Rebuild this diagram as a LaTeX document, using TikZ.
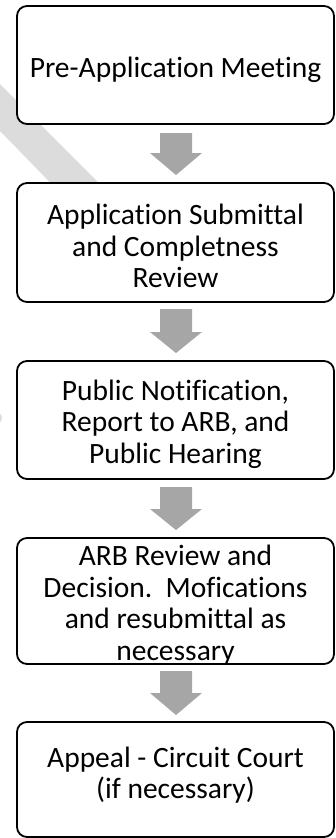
\documentclass[tikz,border=0pt]{standalone}
\usepackage{fontspec}
\setmainfont{Carlito}[Ligatures=NoCommon]
\begin{document}
\begin{tikzpicture}[x=1bp,y=-1bp,
  stepbox/.style={draw=black,line width=1.8bp,rounded corners=10bp,fill=white},
  steptext/.style={align=center,font=\fontsize{29.5bp}{31.5bp}\selectfont,inner sep=0pt},
  flowarrow/.style={fill=arrowgray,draw=none}]
\definecolor{arrowgray}{HTML}{A6A6A6}
\definecolor{markgray}{HTML}{DCDCDC}
\useasboundingbox (0,0) rectangle (335,838);
% watermark band
\fill[markgray] (0,84) -- (160,244) -- (110,244) -- (0,131) -- cycle;
\fill[markgray] (0,418) ellipse (2 and 4);
% boxes
\draw[stepbox] (17,6) rectangle (334,124);
\draw[stepbox] (17,183) rectangle (334,302);
\draw[stepbox] (17,361) rectangle (334,479);
\draw[stepbox] (17,538) rectangle (334,664);
\draw[stepbox] (17,722) rectangle (334,837);
\node[steptext] (t1) at (175.5,70) {Pre-Application Meeting};
\node[steptext] (t2) at (175.5,246) {Application Submittal\\and Completness\\Review};
\node[steptext] (t3) at (175.5,424) {Public Notification,\\Report to ARB, and\\Public Hearing};
\node[steptext] (t4) at (175.5,605) {ARB Review and\\Decision.\ \ Mofications\\and resubmittal as\\necessary};
\node[steptext] (t5) at (175.5,775) {Appeal - Circuit Court\\(if necessary)};
% arrows
\foreach \top/\base/\tip in {133/153/175, 309/332/353, 487/509/530, 671/693/715}{
  \fill[flowarrow] (160,\top) -- (192,\top) -- (192,\base) -- (202,\base) -- (176,\tip) -- (150,\base) -- (160,\base) -- cycle;
}
\end{tikzpicture}
\end{document}
